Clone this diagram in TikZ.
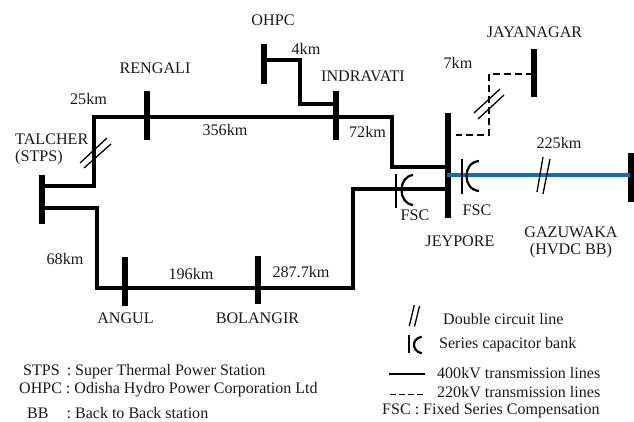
\documentclass[tikz,border=0pt]{standalone}
\usepackage{fontspec}
\setmainfont{Liberation Serif}
\tikzset{
  bus/.style={draw=none,fill=black,inner sep=0pt,minimum width=6bp},
  hv/.style={draw=black,line width=4bp,line join=miter},
  lv/.style={draw=black,line width=1.7bp,dash pattern=on 7bp off 4bp},
  hvdc/.style={draw=myblue,line width=4.2bp},
  tick/.style={draw=black,line width=1.3bp},
  capplate/.style={draw=black,line width=2.2bp},
  lbl/.style={inner sep=0pt,text=black!90,font=\fontsize{16.2}{18}\selectfont},
  lgd/.style={inner sep=0pt,anchor=west,text=black!90,font=\fontsize{16.1}{18}\selectfont}
}
\definecolor{myblue}{RGB}{11,110,190}
\begin{document}
\begin{tikzpicture}[x=1bp,y=-1bp]
\useasboundingbox (0,0) rectangle (634,421);
% junction coordinates
\coordinate (t1) at (42,186);
\coordinate (t1a) at (94,186);
\coordinate (t1b) at (94,116.6);
\coordinate (i1) at (336,116.6);
\coordinate (r1) at (392,116.6);
\coordinate (r2) at (392,167);
\coordinate (j1) at (446,167);
\coordinate (j2) at (446,189);
\coordinate (b1) at (353,189);
\coordinate (b2) at (353,288.4);
\coordinate (a1) at (97,288.4);
\coordinate (a2) at (97,208);
\coordinate (t2) at (42,208);
\coordinate (o1) at (264,60);
\coordinate (o2) at (300,60);
\coordinate (o3) at (300,104);
\coordinate (i2) at (336,104);
\coordinate (jy1) at (533,74);
\coordinate (jy2) at (489,74);
\coordinate (jy3) at (489,135);
\coordinate (j3) at (456,135);
\coordinate (j4) at (447,175);
\coordinate (g1) at (630,175);
% lines
\draw[hv] (t1) -- (t1a) -- (t1b) -- (i1) -- (r1) -- (r2) -- (j1);
\draw[hv] (j2) -- (b1) -- (b2) -- (a1) -- (a2) -- (t2);
\draw[hv] (o1) -- (o2) -- (o3) -- (i2);
\draw[lv] (jy1) -- (jy2) -- (jy3) -- (j3);
% buses
\node[bus,minimum height=49bp] (talcher) at (41.5,199.5) {};
\node[bus,minimum height=49bp] (rengali) at (147,115.5) {};
\node[bus,minimum height=49bp] (indravati) at (336,115.5) {};
\node[bus,minimum height=40bp] (ohpc) at (264,63.5) {};
\node[bus,minimum height=49bp] (angul) at (125,281.5) {};
\node[bus,minimum height=48bp] (bolangir) at (258,280) {};
\node[bus,minimum height=105bp] (jeypore) at (448,165.5) {};
\node[bus,minimum height=48bp] (jayanagar) at (533.5,73) {};
\node[bus,minimum height=49bp] (gazuwaka) at (631,177.5) {};
\draw[hvdc] (j4) -- (g1);
% double circuit ticks
\draw[tick] (80,163) -- (107,138) (84,168) -- (111,144);
\draw[tick] (474,113) -- (500,89) (478,119) -- (504,95);
\draw[tick] (537,192) -- (543,157) (543,194) -- (550,159);
% series capacitors
\draw[capplate] (462,159) -- (462,194);
\draw[capplate] (479,161) .. controls (470,162) and (466.5,169) .. (466.5,176) .. controls (466.5,183) and (470,190) .. (479,191);
\draw[capplate] (396,174) -- (396,208);
\draw[capplate] (413,175) .. controls (405,176) and (401.5,183) .. (401.5,190) .. controls (401.5,197) and (405,204) .. (413,205);
% labels
\node[lbl] (lohpc) at (273,20) {OHPC};
\node[lbl] (l4) at (306,49) {4km};
\node[lbl] (lreng) at (155,68) {RENGALI};
\node[lbl] (lind) at (363,76) {INDRAVATI};
\node[lbl] (l25) at (88.5,99) {25km};
\node[lbl] (l356) at (225,130) {356km};
\node[lbl] (l72) at (367.5,132) {72km};
\node[lbl,anchor=west] (ltal) at (15,139) {TALCHER};
\node[lbl,anchor=west] (lstps) at (15,158) {(STPS)};
\node[lbl] (l7) at (458,63) {7km};
\node[lbl] (ljay) at (534.5,32) {JAYANAGAR};
\node[lbl] (l225) at (559,143) {225km};
\node[lbl] (lf1) at (415,215) {FSC};
\node[lbl] (lf2) at (477,210) {FSC};
\node[lbl] (ljey) at (460,241) {JEYPORE};
\node[lbl] (lgaz) at (571,232) {GAZUWAKA};
\node[lbl] (lhv) at (571,251) {(HVDC BB)};
\node[lbl] (l68) at (65,259) {68km};
\node[lbl] (l196) at (191,274) {196km};
\node[lbl] (l287) at (301,272) {287.7km};
\node[lbl] (lang) at (125.5,318) {ANGUL};
\node[lbl] (lbol) at (257.5,318) {BOLANGIR};
% legend left
\node[lgd] (k1) at (23,372) {STPS\hspace{3bp} : Super Thermal Power Station};
\node[lgd] (k2) at (19,390) {OHPC : Odisha Hydro Power Corporation Ltd};
\node[lgd] (k3) at (27,413) {BB\hspace{14bp} : Back to Back station};
% legend right
\draw[tick] (409.3,326) -- (414.3,305) (414.5,326.5) -- (419.5,306);
\draw[capplate] (409,335) -- (409,353);
\draw[capplate] (421.7,336.7) .. controls (416,338) and (414,341.5) .. (414,344.5) .. controls (414,348) and (416,352) .. (421.7,353.3);
\coordinate (s1) at (389,374);
\coordinate (s2) at (425,374);
\coordinate (d1) at (390,394.3);
\coordinate (d2) at (425,394.3);
\draw[draw=black,line width=2.7bp] (s1) -- (s2);
\draw[draw=black,line width=1.2bp,dash pattern=on 5.5bp off 3.5bp] (d1) -- (d2);
\node[lgd] (k4) at (443,319) {Double circuit line};
\node[lgd] (k5) at (439,345) {Series capacitor bank};
\node[lgd] (k6) at (437,373) {400kV transmission lines};
\node[lgd] (k7) at (437,392) {220kV transmission lines};
\node[lgd] (k8) at (382,411) {FSC : Fixed Series Compensation};
\end{tikzpicture}
\end{document}
